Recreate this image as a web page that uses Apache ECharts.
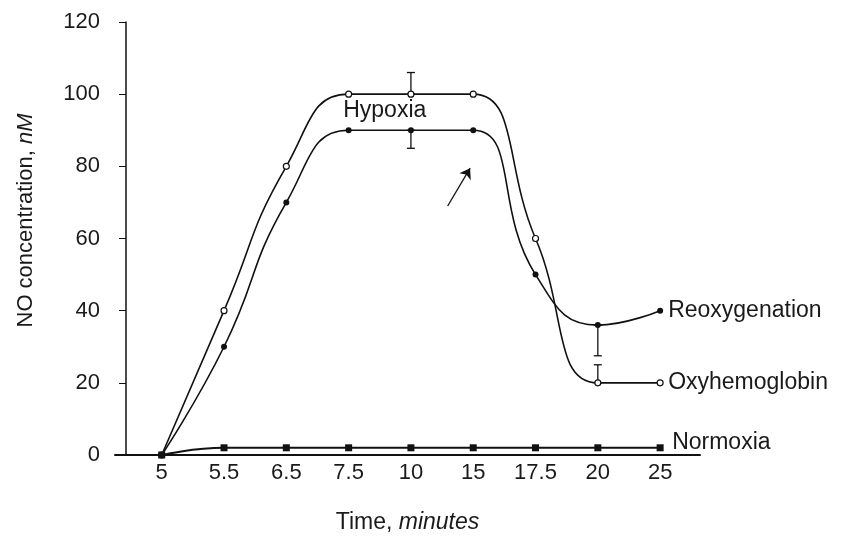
<!DOCTYPE html>
<html><head><meta charset="utf-8">
<script src="https://cdn.jsdelivr.net/npm/echarts@6/dist/echarts.min.js"></script>
<style>html,body{margin:0;padding:0;background:#fff}#c{width:843px;height:541px}</style>
</head><body><div id="c"></div>
<script>
const categories = ['5','5.5','6.5','7.5','10','15','17.5','20','25'];
const oxyhemoglobin = [0, 40, 80, 100, 100, 100, 60, 20, 20];
const reoxygenation = [0, 30, 70, 90, 90, 90, 50, 36, 40];
const normoxia = [0, 2, 2, 2, 2, 2, 2, 2, 2];
// error bars: [category index, low, high]
const errorBars = [[4, 100, 106], [4, 85, 90], [7, 27.5, 36], [7, 20, 25]];
const yTicks = [0, 20, 40, 60, 80, 100, 120];
const hypoxiaLabel = {text: 'Hypoxia', x: 3.58, y: 95.5};
const arrow = [[4.59, 69], [4.95, 79.5]];

const font = '"Liberation Sans", Arial, sans-serif';
const chart = echarts.init(document.getElementById('c'), null, {renderer: 'canvas'});
const idx = a => a.map((v, i) => [i, v]);
const txt = '#1a1a1a';
chart.setOption({
  animation: false,
  grid: {left: 115, right: 143, top: 22, bottom: 86},
  xAxis: {
    type: 'value', min: -0.75, max: 8.64, interval: 0.25,
    axisLine: {show: true, onZero: false, lineStyle: {color: '#111', width: 2}},
    axisTick: {show: false}, splitLine: {show: false},
    axisLabel: {
      color: txt, fontSize: 22, fontFamily: font, margin: 7,
      formatter: v => {
        const r = Math.round(v);
        return (Math.abs(v - r) < 1e-6 && categories[r] !== undefined) ? categories[r] : '';
      },
      showMinLabel: false, showMaxLabel: false
    },
    name: '{a|Time, }{b|minutes}', nameLocation: 'middle', nameGap: 56,
    nameTextStyle: {rich: {a: {fontSize: 23, fontFamily: font, color: txt}, b: {fontSize: 23, fontFamily: font, fontStyle: 'italic', color: txt}}}
  },
  yAxis: {
    type: 'value', min: 0, max: 120, interval: 20, offset: -11,
    axisLine: {show: true, onZero: false, lineStyle: {color: '#111', width: 1.5}},
    axisTick: {show: true, length: 7, lineStyle: {color: '#111'}},
    splitLine: {show: false},
    axisLabel: {color: txt, fontSize: 22, fontFamily: font, margin: 26,
      formatter: v => yTicks.includes(v) ? String(v) : ''},
    name: '{a|NO concentration, }{b|nM}', nameLocation: 'middle', nameGap: 89, nameRotate: 90,
    nameTextStyle: {padding: [0, 0, 0, 36], rich: {a: {fontSize: 22, fontFamily: font, color: txt}, b: {fontSize: 22, fontFamily: font, fontStyle: 'italic', color: txt}}}
  },
  series: [
    {
      name: 'Oxyhemoglobin', type: 'line', smooth: 0.5, data: idx(oxyhemoglobin),
      symbol: 'circle', symbolSize: 6, showAllSymbol: true,
      lineStyle: {color: '#111', width: 1.6},
      itemStyle: {color: '#fff', borderColor: '#111', borderWidth: 1.2},
      endLabel: {show: true, formatter: 'Oxyhemoglobin', color: txt, fontSize: 23, fontFamily: font, distance: 8},
      markLine: {
        silent: true, symbol: ['none', 'arrow'], symbolSize: 10,
        lineStyle: {color: '#111', width: 1.3, type: 'solid'}, label: {show: false},
        data: [[{coord: arrow[0]}, {coord: arrow[1]}]]
      },
      markPoint: {
        silent: true, symbol: 'rect', symbolSize: 1, itemStyle: {color: 'rgba(0,0,0,0)'},
        label: {show: true, position: 'inside', formatter: hypoxiaLabel.text, color: txt, fontSize: 23, fontFamily: font},
        data: [{coord: [hypoxiaLabel.x, hypoxiaLabel.y]}]
      }
    },
    {
      name: 'Reoxygenation', type: 'line', smooth: 0.5, data: idx(reoxygenation),
      symbol: 'circle', symbolSize: 6, showAllSymbol: true,
      lineStyle: {color: '#111', width: 1.6},
      itemStyle: {color: '#111'},
      endLabel: {show: true, formatter: 'Reoxygenation', color: txt, fontSize: 23, fontFamily: font, distance: 8},
    },
    {
      name: 'Normoxia', type: 'line', smooth: 0.5, data: idx(normoxia),
      symbol: 'rect', symbolSize: 7, showAllSymbol: true,
      lineStyle: {color: '#111', width: 2},
      itemStyle: {color: '#111'},
      endLabel: {show: true, formatter: 'Normoxia', color: txt, fontSize: 23, fontFamily: font, distance: 12, offset: [0, -5]}
    },
    {
      name: 'err', type: 'custom', data: errorBars, silent: true,
      renderItem: (params, api) => {
        const x = api.value(0);
        const lo = api.coord([x, api.value(1)]);
        const hi = api.coord([x, api.value(2)]);
        const w = 4;
        const st = {stroke: '#111', lineWidth: 1.3};
        return {type: 'group', children: [
          {type: 'line', shape: {x1: lo[0], y1: lo[1], x2: hi[0], y2: hi[1]}, style: st},
          {type: 'line', shape: {x1: lo[0]-w, y1: lo[1], x2: lo[0]+w, y2: lo[1]}, style: st},
          {type: 'line', shape: {x1: hi[0]-w, y1: hi[1], x2: hi[0]+w, y2: hi[1]}, style: st}
        ]};
      },
      z: 1
    }
  ]
});
</script></body></html>
